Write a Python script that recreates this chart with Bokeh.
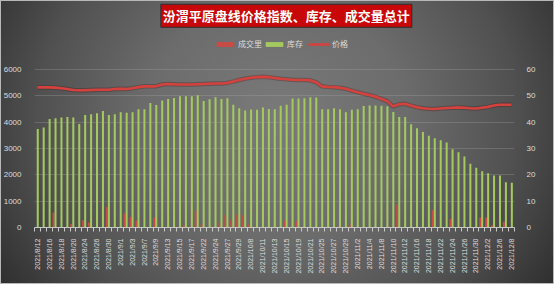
from bokeh.plotting import figure
from bokeh.models import Range1d, LinearAxis, FixedTicker, Label, Legend, LegendItem, ColumnDataSource
from bokeh.transform import dodge
from bokeh.embed import file_html
from bokeh.resources import INLINE

dates = ["2021/8/12", "2021/8/13", "2021/8/16", "2021/8/17", "2021/8/18", "2021/8/19", "2021/8/20", "2021/8/23",
         "2021/8/24", "2021/8/25", "2021/8/26", "2021/8/27", "2021/8/30", "2021/8/31", "2021/9/1", "2021/9/2",
         "2021/9/3", "2021/9/6", "2021/9/7", "2021/9/8", "2021/9/9", "2021/9/10", "2021/9/13", "2021/9/14",
         "2021/9/15", "2021/9/16", "2021/9/17", "2021/9/18", "2021/9/22", "2021/9/23", "2021/9/24", "2021/9/26",
         "2021/9/27", "2021/9/28", "2021/9/29", "2021/9/30", "2021/10/8", "2021/10/9", "2021/10/11", "2021/10/12",
         "2021/10/13", "2021/10/14", "2021/10/15", "2021/10/18", "2021/10/19", "2021/10/20", "2021/10/21", "2021/10/22",
         "2021/10/25", "2021/10/26", "2021/10/27", "2021/10/28", "2021/10/29", "2021/11/1", "2021/11/2", "2021/11/3",
         "2021/11/4", "2021/11/5", "2021/11/8", "2021/11/9", "2021/11/10", "2021/11/11", "2021/11/12", "2021/11/15",
         "2021/11/16", "2021/11/17", "2021/11/18", "2021/11/19", "2021/11/22", "2021/11/23", "2021/11/24", "2021/11/25",
         "2021/11/26", "2021/11/29", "2021/11/30", "2021/12/1", "2021/12/2", "2021/12/3", "2021/12/6", "2021/12/7",
         "2021/12/8"]

stock = [3740, 3800, 4120, 4150, 4180, 4200, 4180, 3930, 4270, 4300,
         4340, 4420, 4270, 4300, 4380, 4360, 4380, 4490, 4490, 4730,
         4650, 4820, 4880, 4920, 4980, 4980, 4980, 5020, 4800, 4870,
         4950, 4880, 4910, 4660, 4530, 4440, 4480, 4470, 4560, 4500,
         4490, 4620, 4660, 4900, 4900, 4910, 4950, 4940, 4490, 4490,
         4530, 4490, 4380, 4470, 4490, 4610, 4630, 4630, 4620, 4600,
         4390, 4200, 4200, 3920, 3770, 3630, 3480, 3390, 3310, 3230,
         2970, 2860, 2700, 2420, 2270, 2140, 2060, 1970, 1970, 1720,
         1700]

volume = [0, 0, 0, 570, 0, 0, 130, 0, 280, 190,
          0, 0, 785, 0, 0, 540, 400, 270, 0, 0,
          380, 0, 0, 0, 0, 90, 0, 650, 110, 0,
          0, 185, 470, 280, 490, 470, 110, 0, 0, 0,
          0, 0, 260, 0, 245, 0, 0, 0, 0, 0,
          0, 30, 0, 100, 0, 0, 0, 0, 0, 0,
          0, 860, 0, 0, 0, 0, 0, 660, 0, 0,
          320, 0, 0, 0, 0, 380, 380, 90, 0, 215,
          0]

price = [53.2, 53.2, 53.2, 53.1, 52.9, 52.6, 52.2, 52.1, 52.1, 52.2,
         52.3, 52.3, 52.3, 52.6, 52.7, 52.6, 52.9, 53.3, 53.6, 53.6,
         53.6, 54.3, 54.5, 54.4, 54.3, 54.3, 54.3, 54.4, 54.5, 54.6,
         54.7, 54.7, 54.9, 55.4, 56.0, 56.5, 56.9, 57.1, 57.2, 57.1,
         56.8, 56.5, 56.3, 56.1, 56.0, 56.0, 55.9, 55.2, 53.6, 53.4,
         53.3, 53.1, 52.7, 52.0, 51.4, 50.8, 50.3, 49.7, 48.9, 48.0,
         46.0, 46.8, 47.0, 46.3, 45.7, 45.3, 45.1, 45.0, 45.2, 45.4,
         45.5, 45.6, 45.5, 45.3, 45.2, 45.5, 45.8, 46.3, 46.6, 46.6,
         46.6]

y_ticks = [0, 1000, 2000, 3000, 4000, 5000, 6000]
price_ticks = [0, 10, 20, 30, 40, 50, 60]

title_text = "汾渭平原盘线价格指数、库存、成交量总计"
legend_labels = ["成交里", "库存", "价格"]

idx = list(range(len(dates)))
src = ColumnDataSource(dict(x=idx, stock=stock, volume=volume, price=price))

TXT = "#dcdcdc"
FONT = "Liberation Sans"
CJK = "Noto Sans CJK SC"

# frame spans the full height above the axis so the title box and legend are drawn inside it;
# the visible axis scale (0-6000 / 0-60) is fixed by the tickers
Y_TOP = 8620
p = figure(width=554, height=284, output_backend="svg", toolbar_location=None,
           x_range=Range1d(-0.5, len(dates) - 0.5), y_range=Range1d(0, Y_TOP),
           min_border_left=28, min_border_right=40, min_border_top=0, min_border_bottom=57)
p.extra_y_ranges = {"price": Range1d(0, Y_TOP / 100)}

p.background_fill_alpha = 0
p.border_fill_alpha = 0
p.outline_line_color = None
p.styles = {
    "background": "radial-gradient(ellipse 62% 110% at 50% 42%, #7a7a7a 0%, #6c6c6c 38%, #505050 70%, #2a2a2a 100%)",
    "box-shadow": "inset 0 0 0 1px #b8b8b8",
}

p.xgrid.visible = False
p.ygrid.ticker = FixedTicker(ticks=y_ticks[1:])
p.ygrid.grid_line_color = "#a8a8a8"
p.ygrid.grid_line_alpha = 0.3

r_vol = p.vbar(x=dodge("x", -0.3, range=p.x_range), top="volume", width=0.32, bottom=0,
               source=src, fill_color="#c94b45", line_color=None)
r_stock = p.vbar(x=dodge("x", 0.05, range=p.x_range), top="stock", width=0.34, bottom=0,
                 source=src, fill_color="#a4ca5e", line_color=None)
p.line(x="x", y="price", source=src, y_range_name="price", line_color="#3a1414",
       line_alpha=0.3, line_width=4.5)
r_price = p.line(x="x", y="price", source=src, y_range_name="price", line_color="#d4423e",
                 line_width=2.6)

# left axis
left = p.yaxis[0]
left.ticker = FixedTicker(ticks=y_ticks)
left.axis_line_color = None
left.major_tick_line_color = None
left.minor_tick_line_color = None
left.major_label_text_color = TXT
left.major_label_text_font = FONT
left.major_label_text_font_size = "8px"
left.major_label_standoff = 7

# right axis
right = LinearAxis(y_range_name="price", ticker=FixedTicker(ticks=price_ticks))
right.axis_line_color = None
right.major_tick_line_color = None
right.minor_tick_line_color = None
right.major_label_text_color = TXT
right.major_label_text_font = FONT
right.major_label_text_font_size = "8px"
right.major_label_standoff = 6
p.add_layout(right, "right")

# bottom axis
bx = p.xaxis[0]
bx.ticker = FixedTicker(ticks=idx[::2], minor_ticks=[i - 0.5 for i in idx] + [idx[-1] + 0.5])
bx.major_label_overrides = {i: dates[i] for i in idx[::2]}
bx.major_label_orientation = 3.14159265 / 2
bx.major_label_text_color = TXT
bx.major_label_text_font = FONT
bx.major_label_text_font_size = "7px"
bx.major_label_standoff = 5
bx.axis_line_color = "#c8c8c8"
bx.major_tick_line_color = None
bx.minor_tick_line_color = "#c8c8c8"
bx.minor_tick_out = 4
bx.minor_tick_in = 0

# title box
title = Label(x=42.0, y=8040, x_units="data", y_units="data", text=title_text,
              text_align="center", text_baseline="middle",
              text_color="white", text_font=CJK, text_font_style="bold",
              text_font_size="13px",
              background_fill_color="#c80808", border_line_color="#2e2e2e",
              border_line_width=1, padding=2)
p.add_layout(title)

legend = Legend(items=[LegendItem(label=legend_labels[0], renderers=[r_vol]),
                       LegendItem(label=legend_labels[1], renderers=[r_stock]),
                       LegendItem(label=legend_labels[2], renderers=[r_price])],
                location=(180, 178), orientation="horizontal",
                background_fill_alpha=0, border_line_alpha=0,
                label_text_color=TXT, label_text_font=CJK, label_text_font_size="8px",
                label_height=10, glyph_height=6, glyph_width=22,
                label_standoff=2, spacing=1, padding=0, margin=0)
p.add_layout(legend, "center")

open("out.html", "w").write(file_html(p, INLINE))
